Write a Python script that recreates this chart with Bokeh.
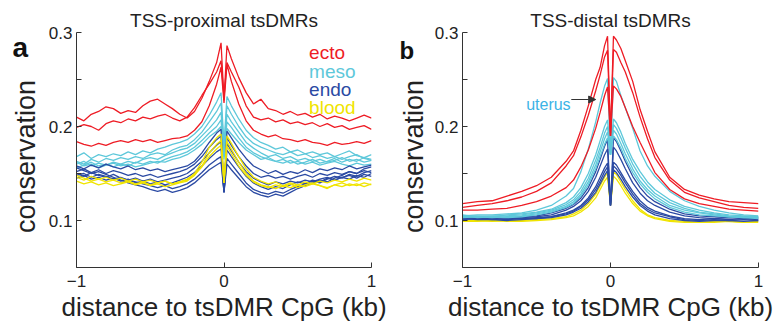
import math
from bokeh.plotting import figure
from bokeh.layouts import row
from bokeh.models import Range1d, FixedTicker, Label, Arrow, NormalHead
from bokeh.embed import file_html
from bokeh.resources import INLINE

# ---------------- data ----------------
x_ticks = [-1, 0, 1]
y_ticks = [0.1, 0.2, 0.3]
y_minor = [0.05, 0.15, 0.25]
titles = ["TSS-proximal tsDMRs", "TSS-distal tsDMRs"]
panel_letters = ["a", "b"]
groups = ["ecto", "meso", "endo", "blood"]

# panel a: distance grid (kb)
xa = [-1.0, -0.95, -0.9, -0.85, -0.8, -0.75, -0.7, -0.65, -0.6, -0.55, -0.5, -0.45, -0.4, -0.35, -0.3,
      -0.25, -0.2, -0.15, -0.1, -0.05, -0.02, 0.0, 0.02, 0.05, 0.1, 0.15, 0.2, 0.25, 0.3, 0.35, 0.4,
      0.45, 0.5, 0.55, 0.6, 0.65, 0.7, 0.75, 0.8, 0.85, 0.9, 0.95, 1.0]

a_ecto = [
    [0.210, 0.206, 0.213, 0.216, 0.221, 0.219, 0.214, 0.217, 0.215, 0.222, 0.227, 0.229, 0.224, 0.219, 0.213, 0.209, 0.216, 0.230, 0.248, 0.268,
     0.289, 0.228, 0.286,
     0.272, 0.252, 0.236, 0.224, 0.229, 0.219, 0.217, 0.213, 0.216, 0.212, 0.214, 0.210, 0.213, 0.208, 0.211, 0.209, 0.206, 0.209, 0.212, 0.209],
    [0.199, 0.202, 0.200, 0.196, 0.203, 0.206, 0.204, 0.208, 0.206, 0.210, 0.208, 0.211, 0.213, 0.209, 0.206, 0.210, 0.220, 0.233, 0.245, 0.258,
     0.270, 0.232, 0.268,
     0.258, 0.242, 0.222, 0.210, 0.207, 0.209, 0.205, 0.207, 0.203, 0.205, 0.202, 0.204, 0.200, 0.203, 0.199, 0.201, 0.197, 0.199, 0.201, 0.197],
    [0.184, 0.181, 0.179, 0.182, 0.180, 0.183, 0.185, 0.183, 0.186, 0.184, 0.186, 0.183, 0.185, 0.187, 0.188, 0.190, 0.196, 0.205, 0.222, 0.245,
     0.263, 0.225, 0.266,
     0.248, 0.224, 0.206, 0.196, 0.192, 0.189, 0.191, 0.187, 0.186, 0.184, 0.186, 0.183, 0.182, 0.180, 0.183, 0.181, 0.182, 0.184, 0.182, 0.185],
]
a_meso = [
    [0.168, 0.172, 0.166, 0.170, 0.168, 0.171, 0.169, 0.173, 0.170, 0.174, 0.172, 0.176, 0.178, 0.181, 0.183, 0.186, 0.192, 0.200, 0.212, 0.226,
     0.236, 0.180, 0.232,
     0.222, 0.208, 0.196, 0.188, 0.183, 0.180, 0.176, 0.178, 0.173, 0.175, 0.171, 0.173, 0.170, 0.172, 0.168, 0.171, 0.174, 0.169, 0.167, 0.170],
    [0.163, 0.160, 0.165, 0.162, 0.166, 0.164, 0.167, 0.165, 0.168, 0.166, 0.170, 0.172, 0.170, 0.175, 0.178, 0.180, 0.186, 0.194, 0.205, 0.216,
     0.225, 0.175, 0.222,
     0.213, 0.200, 0.189, 0.182, 0.178, 0.175, 0.172, 0.170, 0.173, 0.169, 0.171, 0.167, 0.169, 0.166, 0.168, 0.165, 0.168, 0.170, 0.166, 0.164],
    [0.160, 0.163, 0.158, 0.161, 0.159, 0.162, 0.160, 0.163, 0.161, 0.165, 0.167, 0.165, 0.169, 0.172, 0.175, 0.177, 0.182, 0.190, 0.198, 0.207,
     0.215, 0.172, 0.213,
     0.205, 0.194, 0.183, 0.177, 0.172, 0.168, 0.170, 0.166, 0.168, 0.164, 0.166, 0.163, 0.165, 0.162, 0.164, 0.167, 0.163, 0.165, 0.162, 0.164],
    [0.156, 0.159, 0.162, 0.158, 0.160, 0.157, 0.160, 0.158, 0.162, 0.160, 0.163, 0.161, 0.165, 0.168, 0.170, 0.173, 0.178, 0.185, 0.193, 0.200,
     0.207, 0.168, 0.205,
     0.199, 0.188, 0.178, 0.172, 0.168, 0.165, 0.163, 0.165, 0.161, 0.163, 0.160, 0.162, 0.159, 0.161, 0.163, 0.160, 0.158, 0.161, 0.159, 0.160],
    [0.162, 0.158, 0.160, 0.156, 0.159, 0.161, 0.158, 0.160, 0.157, 0.159, 0.161, 0.163, 0.162, 0.165, 0.167, 0.170, 0.175, 0.181, 0.189, 0.195,
     0.200, 0.165, 0.198,
     0.192, 0.183, 0.175, 0.170, 0.165, 0.167, 0.163, 0.161, 0.164, 0.160, 0.162, 0.165, 0.161, 0.163, 0.166, 0.162, 0.165, 0.163, 0.167, 0.165],
]
a_endo = [
    [0.158, 0.155, 0.159, 0.156, 0.160, 0.157, 0.155, 0.158, 0.154, 0.156, 0.153, 0.155, 0.152, 0.154, 0.156, 0.158, 0.163, 0.172, 0.183, 0.193,
     0.197, 0.130, 0.195,
     0.188, 0.176, 0.166, 0.158, 0.154, 0.150, 0.153, 0.149, 0.152, 0.150, 0.154, 0.151, 0.155, 0.153, 0.156, 0.154, 0.158, 0.155, 0.157, 0.159],
    [0.152, 0.155, 0.151, 0.154, 0.150, 0.153, 0.151, 0.148, 0.150, 0.147, 0.149, 0.146, 0.148, 0.150, 0.152, 0.155, 0.160, 0.168, 0.178, 0.186,
     0.190, 0.130, 0.188,
     0.180, 0.168, 0.158, 0.150, 0.146, 0.148, 0.145, 0.147, 0.144, 0.147, 0.149, 0.146, 0.150, 0.148, 0.151, 0.149, 0.152, 0.150, 0.153, 0.151],
    [0.148, 0.150, 0.146, 0.149, 0.147, 0.144, 0.146, 0.143, 0.145, 0.142, 0.144, 0.141, 0.143, 0.145, 0.147, 0.150, 0.156, 0.163, 0.172, 0.180,
     0.184, 0.130, 0.182,
     0.174, 0.162, 0.152, 0.145, 0.141, 0.138, 0.141, 0.139, 0.142, 0.140, 0.143, 0.141, 0.144, 0.146, 0.143, 0.146, 0.148, 0.145, 0.149, 0.147],
    [0.145, 0.148, 0.144, 0.146, 0.143, 0.145, 0.142, 0.144, 0.140, 0.142, 0.139, 0.141, 0.138, 0.140, 0.143, 0.146, 0.151, 0.158, 0.166, 0.173,
     0.176, 0.130, 0.175,
     0.168, 0.157, 0.147, 0.140, 0.136, 0.133, 0.136, 0.134, 0.138, 0.141, 0.139, 0.143, 0.141, 0.145, 0.143, 0.146, 0.144, 0.148, 0.146, 0.150],
    [0.150, 0.147, 0.151, 0.148, 0.146, 0.149, 0.145, 0.143, 0.141, 0.139, 0.137, 0.135, 0.137, 0.134, 0.136, 0.139, 0.144, 0.151, 0.159, 0.165,
     0.168, 0.130, 0.166,
     0.160, 0.150, 0.140, 0.133, 0.130, 0.128, 0.131, 0.129, 0.133, 0.136, 0.139, 0.142, 0.140, 0.144, 0.147, 0.145, 0.149, 0.147, 0.151, 0.153],
    [0.156, 0.153, 0.150, 0.152, 0.149, 0.146, 0.143, 0.140, 0.138, 0.136, 0.133, 0.131, 0.133, 0.130, 0.132, 0.135, 0.140, 0.147, 0.154, 0.159,
     0.162, 0.130, 0.160,
     0.154, 0.145, 0.136, 0.130, 0.127, 0.125, 0.128, 0.126, 0.130, 0.134, 0.137, 0.140, 0.143, 0.141, 0.145, 0.148, 0.152, 0.150, 0.155, 0.157],
]
a_blood = [
    [0.146, 0.143, 0.147, 0.144, 0.146, 0.143, 0.145, 0.142, 0.144, 0.141, 0.143, 0.140, 0.142, 0.139, 0.141, 0.143, 0.150, 0.162, 0.178, 0.188,
     0.192, 0.140, 0.190,
     0.182, 0.168, 0.155, 0.146, 0.142, 0.139, 0.141, 0.137, 0.140, 0.138, 0.141, 0.139, 0.142, 0.140, 0.143, 0.141, 0.144, 0.142, 0.145, 0.143],
    [0.142, 0.139, 0.141, 0.138, 0.140, 0.137, 0.139, 0.141, 0.138, 0.140, 0.137, 0.139, 0.136, 0.138, 0.140, 0.142, 0.148, 0.158, 0.172, 0.181,
     0.185, 0.140, 0.184,
     0.176, 0.162, 0.150, 0.142, 0.138, 0.136, 0.134, 0.137, 0.135, 0.138, 0.136, 0.139, 0.137, 0.134, 0.138, 0.136, 0.139, 0.137, 0.140, 0.138],
    [0.148, 0.145, 0.142, 0.144, 0.141, 0.143, 0.140, 0.142, 0.139, 0.141, 0.138, 0.140, 0.142, 0.139, 0.141, 0.144, 0.149, 0.157, 0.168, 0.176,
     0.180, 0.140, 0.179,
     0.171, 0.158, 0.148, 0.141, 0.137, 0.135, 0.138, 0.136, 0.139, 0.135, 0.138, 0.140, 0.137, 0.135, 0.138, 0.140, 0.137, 0.139, 0.136, 0.139],
]

# panel b: distance grid (kb)
xb = [-1.0, -0.9, -0.8, -0.7, -0.6, -0.5, -0.4, -0.3, -0.25, -0.2, -0.15, -0.1, -0.07, -0.04, -0.02, 0.0,
      0.02, 0.04, 0.07, 0.1, 0.15, 0.2, 0.25, 0.3, 0.4, 0.5, 0.6, 0.7, 0.8, 0.9, 1.0]

b_ecto = [
    [0.118, 0.120, 0.121, 0.126, 0.131, 0.137, 0.146, 0.163, 0.174, 0.196, 0.222, 0.250, 0.263, 0.286, 0.296, 0.190,
     0.296, 0.292, 0.283, 0.270, 0.248, 0.218, 0.195, 0.173, 0.146, 0.133, 0.127, 0.123, 0.120, 0.119, 0.118],
    [0.114, 0.116, 0.118, 0.121, 0.125, 0.131, 0.140, 0.158, 0.169, 0.189, 0.212, 0.238, 0.255, 0.274, 0.281, 0.190,
     0.282, 0.279, 0.268, 0.258, 0.236, 0.210, 0.187, 0.167, 0.143, 0.130, 0.124, 0.120, 0.116, 0.114, 0.113],
    [0.111, 0.111, 0.112, 0.113, 0.116, 0.120, 0.126, 0.135, 0.143, 0.157, 0.175, 0.198, 0.215, 0.233, 0.242, 0.190,
     0.243, 0.240, 0.232, 0.220, 0.200, 0.183, 0.167, 0.151, 0.133, 0.123, 0.118, 0.115, 0.112, 0.111, 0.110],
]
b_meso = [
    [0.105, 0.106, 0.106, 0.107, 0.108, 0.111, 0.116, 0.126, 0.134, 0.152, 0.176, 0.205, 0.225, 0.243, 0.251, 0.170,
     0.252, 0.248, 0.233, 0.220, 0.198, 0.174, 0.158, 0.147, 0.131, 0.121, 0.115, 0.111, 0.108, 0.106, 0.105],
    [0.104, 0.105, 0.104, 0.106, 0.107, 0.109, 0.112, 0.119, 0.125, 0.135, 0.150, 0.170, 0.185, 0.200, 0.207, 0.170,
     0.208, 0.204, 0.194, 0.182, 0.165, 0.152, 0.141, 0.133, 0.122, 0.115, 0.111, 0.108, 0.106, 0.105, 0.104],
    [0.106, 0.104, 0.105, 0.105, 0.106, 0.108, 0.111, 0.117, 0.122, 0.131, 0.145, 0.164, 0.178, 0.193, 0.200, 0.170,
     0.202, 0.198, 0.188, 0.177, 0.160, 0.147, 0.137, 0.129, 0.119, 0.113, 0.109, 0.107, 0.105, 0.104, 0.103],
    [0.103, 0.104, 0.103, 0.104, 0.105, 0.107, 0.110, 0.115, 0.120, 0.128, 0.141, 0.159, 0.173, 0.187, 0.194, 0.170,
     0.196, 0.192, 0.182, 0.171, 0.155, 0.142, 0.133, 0.126, 0.116, 0.111, 0.108, 0.106, 0.104, 0.103, 0.102],
    [0.105, 0.103, 0.104, 0.103, 0.104, 0.106, 0.109, 0.114, 0.118, 0.126, 0.138, 0.155, 0.168, 0.181, 0.188, 0.170,
     0.190, 0.186, 0.177, 0.166, 0.151, 0.139, 0.130, 0.123, 0.114, 0.109, 0.106, 0.105, 0.104, 0.103, 0.104],
]
b_endo = [
    [0.104, 0.103, 0.104, 0.103, 0.104, 0.105, 0.108, 0.113, 0.117, 0.124, 0.135, 0.152, 0.165, 0.179, 0.186, 0.116,
     0.188, 0.184, 0.174, 0.163, 0.147, 0.135, 0.126, 0.120, 0.112, 0.107, 0.105, 0.104, 0.103, 0.104, 0.103],
    [0.102, 0.103, 0.102, 0.103, 0.103, 0.104, 0.106, 0.111, 0.115, 0.121, 0.131, 0.146, 0.158, 0.170, 0.176, 0.116,
     0.178, 0.174, 0.165, 0.155, 0.140, 0.129, 0.121, 0.116, 0.109, 0.105, 0.103, 0.102, 0.103, 0.102, 0.102],
    [0.103, 0.102, 0.101, 0.102, 0.102, 0.103, 0.104, 0.108, 0.111, 0.116, 0.124, 0.136, 0.146, 0.156, 0.161, 0.116,
     0.162, 0.159, 0.151, 0.143, 0.131, 0.121, 0.114, 0.110, 0.105, 0.102, 0.101, 0.102, 0.101, 0.102, 0.101],
    [0.101, 0.102, 0.102, 0.101, 0.102, 0.102, 0.104, 0.107, 0.110, 0.115, 0.122, 0.133, 0.142, 0.152, 0.157, 0.116,
     0.158, 0.155, 0.148, 0.140, 0.128, 0.118, 0.112, 0.108, 0.104, 0.101, 0.100, 0.101, 0.100, 0.101, 0.100],
    [0.102, 0.101, 0.101, 0.100, 0.101, 0.102, 0.103, 0.106, 0.109, 0.113, 0.120, 0.130, 0.139, 0.148, 0.153, 0.116,
     0.154, 0.151, 0.144, 0.136, 0.125, 0.116, 0.110, 0.106, 0.102, 0.100, 0.099, 0.100, 0.100, 0.099, 0.100],
]
b_blood = [
    [0.100, 0.100, 0.099, 0.100, 0.100, 0.101, 0.102, 0.104, 0.107, 0.111, 0.118, 0.128, 0.137, 0.146, 0.151, 0.116,
     0.152, 0.149, 0.141, 0.133, 0.121, 0.112, 0.106, 0.103, 0.100, 0.099, 0.098, 0.099, 0.099, 0.098, 0.099],
    [0.099, 0.099, 0.100, 0.099, 0.099, 0.100, 0.101, 0.103, 0.105, 0.109, 0.115, 0.124, 0.133, 0.142, 0.146, 0.116,
     0.147, 0.144, 0.137, 0.129, 0.118, 0.110, 0.105, 0.102, 0.099, 0.098, 0.098, 0.098, 0.099, 0.098, 0.098],
]

colors = {"ecto": "#ee1c25", "meso": "#5ec8da", "endo": "#2b4aa3", "blood": "#f0e400"}
uterus_color = "#3bb3e6"
FONT = "Liberation Sans"
TXT = "#222222"
H = 326
Y_RANGE = (0.05, 0.3)
BORDER_TOP = 32
BORDER_BOTTOM = 59


def make_strip(width, letter, letter_x, ylabel_x):
    """Narrow side strip (same vertical frame as the panels) holding the panel
    letter and the rotated y-axis title."""
    s = figure(width=width, height=H, output_backend="svg", toolbar_location=None,
               x_range=Range1d(0, width), y_range=Range1d(*Y_RANGE),
               x_axis_type=None, y_axis_type=None,
               min_border_left=0, min_border_right=0,
               min_border_top=BORDER_TOP, min_border_bottom=BORDER_BOTTOM)
    s.outline_line_color = None
    s.background_fill_color = "white"
    s.border_fill_color = "white"
    lbl = Label(x=letter_x, y=0.2845, text=letter, text_font=FONT, text_font_size="28px",
                text_font_style="bold", text_color="#111111", text_baseline="alphabetic")
    unclipped = False
    try:
        lbl.clip = False
        unclipped = True
    except Exception:
        unclipped = False
    if letter == "b":
        # the ascender must stay inside the frame if the label is clipped
        if unclipped:
            lbl.y = 0.2855
            lbl.text_font_size = "25px"
        else:
            lbl.y = 0.2805
            lbl.text_font_size = "24px"
    s.add_layout(lbl)
    s.add_layout(Label(x=ylabel_x, y=0.168, text="conservation", angle=math.pi / 2,
                       text_font=FONT, text_font_size="27px", text_color=TXT,
                       text_align="center", text_baseline="middle"))
    return s


def make_panel(title, xs, series, order, width, left, right):
    p = figure(width=width, height=H, output_backend="svg", toolbar_location=None,
               x_range=Range1d(-1, 1), y_range=Range1d(*Y_RANGE),
               min_border_left=left, min_border_right=right,
               min_border_top=BORDER_TOP, min_border_bottom=BORDER_BOTTOM)
    p.outline_line_color = None
    p.xgrid.visible = False
    p.ygrid.visible = False
    p.background_fill_color = "white"
    p.border_fill_color = "white"
    for g in order:
        for ys in series[g]:
            p.line(xs, ys, line_color=colors[g], line_width=1.3)
    for ax in (p.xaxis[0], p.yaxis[0]):
        ax.axis_line_color = "#333333"
        ax.major_tick_line_color = "#333333"
        ax.minor_tick_line_color = "#333333"
        ax.major_tick_in = 5
        ax.major_tick_out = 0
        ax.minor_tick_in = 5
        ax.minor_tick_out = 0
        ax.major_label_text_font = FONT
        ax.major_label_text_font_size = "17px"
        ax.major_label_text_color = TXT
        ax.axis_label_text_font = FONT
        ax.axis_label_text_font_size = "26px"
        ax.axis_label_text_font_style = "normal"
        ax.axis_label_text_color = TXT
    p.xaxis.ticker = FixedTicker(ticks=x_ticks)
    p.xaxis.major_label_overrides = {-1: "\u22121", 0: "0", 1: "1"}
    p.yaxis.ticker = FixedTicker(ticks=y_ticks, minor_ticks=y_minor)
    p.xaxis.major_label_standoff = 7
    p.yaxis.major_label_standoff = 4
    p.xaxis.axis_label_standoff = 2
    p.xaxis.axis_label = "distance to tsDMR CpG (kb)"
    p.title.text = title
    p.title.align = "center"
    p.title.text_font = FONT
    p.title.text_font_size = "19px"
    p.title.text_font_style = "normal"
    p.title.text_color = TXT
    p.title.standoff = 3
    return p


sa = make_strip(45, panel_letters[0], 12, 25)
pa = make_panel(titles[0], xa,
                {"ecto": a_ecto, "meso": a_meso, "endo": a_endo, "blood": a_blood},
                ["meso", "endo", "blood", "ecto"], 345, 28, 19)
legend_y = [0.279, 0.2585, 0.239, 0.22]
for g, yy in zip(groups, legend_y):
    pa.add_layout(Label(x=0.577, y=yy, text=g, text_font=FONT, text_font_size="19px",
                        text_color=colors[g], text_baseline="alphabetic"))

sb = make_strip(41, panel_letters[1], 9, 23)
pb = make_panel(titles[1], xb,
                {"ecto": b_ecto, "meso": b_meso, "endo": b_endo, "blood": b_blood},
                ["blood", "endo", "meso", "ecto"], 350, 28, 23)
pb.add_layout(Label(x=-0.57, y=0.2234, text="uterus", text_font=FONT, text_font_size="16px",
                    text_color=uterus_color, text_baseline="alphabetic"))
pb.add_layout(Arrow(x_start=-0.265, y_start=0.2287, x_end=-0.1, y_end=0.2287,
                    line_color="#333333", line_width=1.2,
                    end=NormalHead(size=7, fill_color="#333333", line_color="#333333")))

layout = row(sa, pa, sb, pb)
open("out.html", "w").write(file_html(layout, INLINE))
